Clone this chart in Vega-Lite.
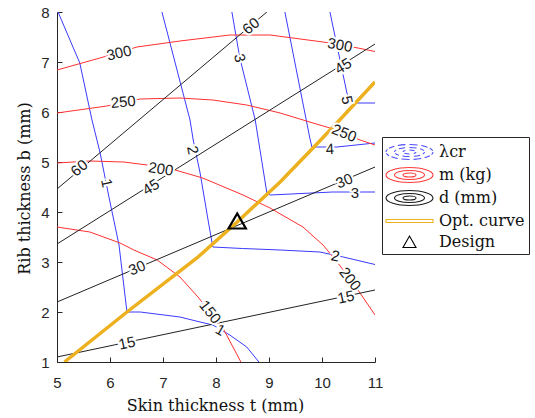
{
  "$schema": "https://vega.github.io/schema/vega-lite/v6.json",
  "width": 318,
  "height": 350,
  "autosize": {"type": "none"},
  "padding": {"left": 57, "top": 12, "right": 160, "bottom": 56},
  "background": "white",
  "config": {
    "view": {"stroke": null},
    "axis": {
      "grid": false,
      "domainColor": "#262626",
      "tickColor": "#262626",
      "labelFont": "Liberation Sans",
      "labelFontSize": 15,
      "labelColor": "#262626",
      "titleFont": "DejaVu Serif",
      "titleFontSize": 16,
      "titleFontWeight": "normal",
      "titleColor": "#111111",
      "labelFlush": false,
      "labelOverlap": false
    },
    "legend": {
      "strokeColor": "#262626",
      "fillColor": "white",
      "padding": 4,
      "symbolSize": 400,
      "symbolStrokeWidth": 1.1,
      "labelFont": "DejaVu Serif",
      "labelFontSize": 16,
      "labelColor": "#111111",
      "labelOffset": 31,
      "labelLimit": 300,
      "rowPadding": 2
    }
  },
  "datasets": {
    "contours": [
      {"kind": "lam", "line": "l1", "x": 5.02, "y": 8},
      {"kind": "lam", "line": "l1", "x": 5.43, "y": 6.98},
      {"kind": "lam", "line": "l1", "x": 5.66, "y": 5.84},
      {"kind": "lam", "line": "l1", "x": 5.81, "y": 5.2},
      {"kind": "lam", "line": "l1", "x": 5.98, "y": 4.3},
      {"kind": "lam", "line": "l1", "x": 6.17, "y": 3.34},
      {"kind": "lam", "line": "l1", "x": 6.32, "y": 2.0},
      {"kind": "lam", "line": "l1", "x": 6.57, "y": 2.0},
      {"kind": "lam", "line": "l1", "x": 7.32, "y": 1.9},
      {"kind": "lam", "line": "l1", "x": 7.7, "y": 1.8},
      {"kind": "lam", "line": "l1", "x": 7.94, "y": 1.74},
      {"kind": "lam", "line": "l1", "x": 8.26, "y": 1.54},
      {"kind": "lam", "line": "l1", "x": 8.58, "y": 1.3},
      {"kind": "lam", "line": "l1", "x": 8.81, "y": 1.0},
      {"kind": "lam", "line": "l2", "x": 6.98, "y": 8},
      {"kind": "lam", "line": "l2", "x": 7.51, "y": 5.84},
      {"kind": "lam", "line": "l2", "x": 7.57, "y": 5.44},
      {"kind": "lam", "line": "l2", "x": 7.7, "y": 4.78},
      {"kind": "lam", "line": "l2", "x": 7.85, "y": 3.84},
      {"kind": "lam", "line": "l2", "x": 7.94, "y": 3.3},
      {"kind": "lam", "line": "l2", "x": 8.5, "y": 3.27},
      {"kind": "lam", "line": "l2", "x": 9.21, "y": 3.24},
      {"kind": "lam", "line": "l2", "x": 9.96, "y": 3.2},
      {"kind": "lam", "line": "l2", "x": 10.4, "y": 3.1},
      {"kind": "lam", "line": "l2", "x": 11, "y": 2.95},
      {"kind": "lam", "line": "l3", "x": 8.3, "y": 8},
      {"kind": "lam", "line": "l3", "x": 8.45, "y": 7.08},
      {"kind": "lam", "line": "l3", "x": 8.74, "y": 5.84},
      {"kind": "lam", "line": "l3", "x": 8.96, "y": 4.38},
      {"kind": "lam", "line": "l3", "x": 9.02, "y": 4.34},
      {"kind": "lam", "line": "l3", "x": 10.2, "y": 4.4},
      {"kind": "lam", "line": "l3", "x": 11, "y": 4.4},
      {"kind": "lam", "line": "l4", "x": 9.3, "y": 8},
      {"kind": "lam", "line": "l4", "x": 9.77, "y": 5.48},
      {"kind": "lam", "line": "l4", "x": 9.81, "y": 5.3},
      {"kind": "lam", "line": "l4", "x": 9.91, "y": 5.3},
      {"kind": "lam", "line": "l4", "x": 10.28, "y": 5.3},
      {"kind": "lam", "line": "l4", "x": 11, "y": 5.38},
      {"kind": "lam", "line": "l5", "x": 10.15, "y": 8},
      {"kind": "lam", "line": "l5", "x": 10.47, "y": 6.38},
      {"kind": "lam", "line": "l5", "x": 10.55, "y": 6.18},
      {"kind": "lam", "line": "l5", "x": 10.68, "y": 6.18},
      {"kind": "lam", "line": "l5", "x": 11, "y": 6.18},
      {"kind": "m", "line": "m300", "x": 5, "y": 6.84},
      {"kind": "m", "line": "m300", "x": 5.81, "y": 7.08},
      {"kind": "m", "line": "m300", "x": 6.51, "y": 7.3},
      {"kind": "m", "line": "m300", "x": 7.32, "y": 7.42},
      {"kind": "m", "line": "m300", "x": 8.26, "y": 7.54},
      {"kind": "m", "line": "m300", "x": 9.02, "y": 7.54},
      {"kind": "m", "line": "m300", "x": 10.02, "y": 7.4},
      {"kind": "m", "line": "m300", "x": 10.68, "y": 7.28},
      {"kind": "m", "line": "m300", "x": 11, "y": 7.21},
      {"kind": "m", "line": "m250", "x": 5, "y": 5.98},
      {"kind": "m", "line": "m250", "x": 5.94, "y": 6.12},
      {"kind": "m", "line": "m250", "x": 6.57, "y": 6.26},
      {"kind": "m", "line": "m250", "x": 7.32, "y": 6.28},
      {"kind": "m", "line": "m250", "x": 7.94, "y": 6.24},
      {"kind": "m", "line": "m250", "x": 8.58, "y": 6.14},
      {"kind": "m", "line": "m250", "x": 9.21, "y": 5.98},
      {"kind": "m", "line": "m250", "x": 9.83, "y": 5.78},
      {"kind": "m", "line": "m250", "x": 10.15, "y": 5.68},
      {"kind": "m", "line": "m250", "x": 10.72, "y": 5.44},
      {"kind": "m", "line": "m250", "x": 11, "y": 5.34},
      {"kind": "m", "line": "m200", "x": 5, "y": 4.98},
      {"kind": "m", "line": "m200", "x": 5.62, "y": 5.02},
      {"kind": "m", "line": "m200", "x": 6.26, "y": 5.0},
      {"kind": "m", "line": "m200", "x": 6.7, "y": 4.94},
      {"kind": "m", "line": "m200", "x": 7.23, "y": 4.84},
      {"kind": "m", "line": "m200", "x": 7.75, "y": 4.68},
      {"kind": "m", "line": "m200", "x": 8.51, "y": 4.34},
      {"kind": "m", "line": "m200", "x": 9.02, "y": 4.08},
      {"kind": "m", "line": "m200", "x": 9.64, "y": 3.7},
      {"kind": "m", "line": "m200", "x": 10.02, "y": 3.34},
      {"kind": "m", "line": "m200", "x": 10.3, "y": 2.98},
      {"kind": "m", "line": "m200", "x": 10.53, "y": 2.66},
      {"kind": "m", "line": "m200", "x": 10.77, "y": 2.3},
      {"kind": "m", "line": "m200", "x": 11, "y": 1.94},
      {"kind": "m", "line": "m150", "x": 5, "y": 3.7},
      {"kind": "m", "line": "m150", "x": 5.62, "y": 3.6},
      {"kind": "m", "line": "m150", "x": 6.19, "y": 3.38},
      {"kind": "m", "line": "m150", "x": 6.45, "y": 3.24},
      {"kind": "m", "line": "m150", "x": 6.89, "y": 3.04},
      {"kind": "m", "line": "m150", "x": 7.32, "y": 2.7},
      {"kind": "m", "line": "m150", "x": 7.66, "y": 2.3},
      {"kind": "m", "line": "m150", "x": 7.89, "y": 2.0},
      {"kind": "m", "line": "m150", "x": 8.13, "y": 1.68},
      {"kind": "m", "line": "m150", "x": 8.28, "y": 1.38},
      {"kind": "m", "line": "m150", "x": 8.47, "y": 1.0},
      {"kind": "d", "line": "d60", "x": 5, "y": 4.46},
      {"kind": "d", "line": "d60", "x": 8.96, "y": 8},
      {"kind": "d", "line": "d45", "x": 5, "y": 3.36},
      {"kind": "d", "line": "d45", "x": 11, "y": 7.36},
      {"kind": "d", "line": "d30", "x": 5, "y": 2.2},
      {"kind": "d", "line": "d30", "x": 11, "y": 4.9},
      {"kind": "d", "line": "d15", "x": 5, "y": 1.1},
      {"kind": "d", "line": "d15", "x": 11, "y": 2.44},
      {"kind": "opt", "line": "opt", "x": 5.14, "y": 1.0},
      {"kind": "opt", "line": "opt", "x": 6.32, "y": 2.0},
      {"kind": "opt", "line": "opt", "x": 7.64, "y": 3.08},
      {"kind": "opt", "line": "opt", "x": 8.4, "y": 3.8},
      {"kind": "opt", "line": "opt", "x": 9.21, "y": 4.6},
      {"kind": "opt", "line": "opt", "x": 9.83, "y": 5.28},
      {"kind": "opt", "line": "opt", "x": 10.28, "y": 5.78},
      {"kind": "opt", "line": "opt", "x": 11, "y": 6.6}
    ],
    "labels": [
      {"line": "d60", "x": 5.42, "y": 4.88, "t": "60"},
      {"line": "d60", "x": 8.66, "y": 7.72, "t": "60"},
      {"line": "d45", "x": 6.77, "y": 4.5, "t": "45"},
      {"line": "d45", "x": 10.4, "y": 6.92, "t": "45"},
      {"line": "d30", "x": 6.51, "y": 2.88, "t": "30"},
      {"line": "d30", "x": 10.42, "y": 4.62, "t": "30"},
      {"line": "d15", "x": 6.32, "y": 1.38, "t": "15"},
      {"line": "d15", "x": 10.45, "y": 2.3, "t": "15"},
      {"line": "m300", "x": 6.17, "y": 7.18, "t": "300"},
      {"line": "m300", "x": 10.34, "y": 7.34, "t": "300"},
      {"line": "m250", "x": 6.25, "y": 6.2, "t": "250"},
      {"line": "m250", "x": 10.42, "y": 5.58, "t": "250"},
      {"line": "m200", "x": 6.96, "y": 4.86, "t": "200"},
      {"line": "m200", "x": 10.53, "y": 2.66, "t": "200"},
      {"line": "m150", "x": 7.89, "y": 2.0, "t": "150"},
      {"line": "l1", "x": 5.94, "y": 4.58, "t": "1"},
      {"line": "l1", "x": 8.08, "y": 1.64, "t": "1"},
      {"line": "l2", "x": 7.56, "y": 5.24, "t": "2"},
      {"line": "l2", "x": 10.25, "y": 3.12, "t": "2"},
      {"line": "l3", "x": 8.45, "y": 7.08, "t": "3"},
      {"line": "l3", "x": 10.62, "y": 4.38, "t": "3"},
      {"line": "l4", "x": 10.15, "y": 5.26, "t": "4"},
      {"line": "l5", "x": 10.47, "y": 6.24, "t": "5"}
    ],
    "legend": [
      {"entry": "λcr"},
      {"entry": "m (kg)"},
      {"entry": "d (mm)"},
      {"entry": "Opt. curve"},
      {"entry": "Design"}
    ],
    "design": [
      {"x": 8.4, "y": 3.82}
    ]
  },
  "encoding": {
    "x": {
      "field": "x",
      "type": "quantitative",
      "scale": {"domain": [5, 11], "nice": false, "zero": false},
      "axis": {
        "title": "Skin thickness t (mm)",
        "values": [5, 6, 7, 8, 9, 10, 11],
        "tickSize": -5,
        "labelPadding": 18,
        "titleX": 158,
        "titleY": 48,
        "titleBaseline": "alphabetic"
      }
    },
    "y": {
      "field": "y",
      "type": "quantitative",
      "scale": {"domain": [1, 8], "nice": false, "zero": false},
      "axis": {
        "title": "Rib thickness b (mm)",
        "values": [1, 2, 3, 4, 5, 6, 7, 8],
        "tickSize": -5,
        "labelPadding": 13,
        "titleX": -28,
        "titleY": 176,
        "titleBaseline": "alphabetic"
      }
    }
  },
  "layer": [
    {
      "data": {"name": "contours"},
      "transform": [{"filter": "datum.kind == 'lam'"}],
      "mark": {"type": "line", "color": "#3a3aff", "strokeWidth": 1, "clip": true},
      "encoding": {"detail": {"field": "line"}, "order": {"value": null}}
    },
    {
      "data": {"name": "contours"},
      "transform": [{"filter": "datum.kind == 'm'"}],
      "mark": {"type": "line", "color": "#ff3030", "strokeWidth": 1, "clip": true},
      "encoding": {"detail": {"field": "line"}, "order": {"value": null}}
    },
    {
      "data": {"name": "contours"},
      "transform": [{"filter": "datum.kind == 'd'"}],
      "mark": {"type": "line", "color": "#222222", "strokeWidth": 1, "clip": true},
      "encoding": {"detail": {"field": "line"}, "order": {"value": null}}
    },
    {
      "data": {"name": "contours"},
      "transform": [{"filter": "datum.kind == 'opt'"}],
      "mark": {"type": "line", "color": "#EDB120", "strokeWidth": 3.5, "clip": true},
      "encoding": {"detail": {"field": "line"}, "order": {"value": null}}
    },
    {
      "data": {"name": "labels"},
      "encoding": {
        "text": {"field": "t", "type": "nominal"},
        "angle": {
          "condition": [
            {"test": "datum.line == 'd60'", "value": -40},
            {"test": "datum.line == 'd45'", "value": -32},
            {"test": "datum.line == 'd30'", "value": -23},
            {"test": "datum.line == 'd15'", "value": -12},
            {"test": "datum.line == 'm300' && datum.x < 8", "value": -13},
            {"test": "datum.line == 'm300'", "value": 10},
            {"test": "datum.line == 'm250' && datum.x < 8", "value": -5},
            {"test": "datum.line == 'm250'", "value": 22},
            {"test": "datum.line == 'm200' && datum.x < 8", "value": 9},
            {"test": "datum.line == 'm200' || datum.line == 'm150'", "value": 52},
            {"test": "datum.line == 'l1' && datum.y < 3", "value": 30},
            {"test": "datum.line == 'l2' && datum.x > 9", "value": 12},
            {"test": "datum.line == 'l3' && datum.x > 9", "value": 0},
            {"test": "datum.line == 'l4'", "value": -3}
          ],
          "value": 78
        }
      },
      "layer": [
        {"mark": {"type": "text", "font": "Liberation Sans", "fontSize": 15, "fill": "white", "stroke": "white", "strokeWidth": 4, "align": "center", "baseline": "middle"}},
        {"mark": {"type": "text", "font": "Liberation Sans", "fontSize": 15, "color": "#1a1a1a", "align": "center", "baseline": "middle"}}
      ]
    },
    {
      "data": {"name": "design"},
      "mark": {"type": "point", "shape": "triangle-up", "size": 300, "filled": false, "color": "#000000", "strokeWidth": 2.2, "opacity": 1}
    },
    {
      "data": {"name": "legend"},
      "mark": {"type": "point", "filled": false, "opacity": 1},
      "encoding": {
        "color": {
          "field": "entry",
          "type": "nominal",
          "scale": {
            "domain": ["λcr", "m (kg)", "d (mm)", "Opt. curve", "Design"],
            "range": ["#4a4aff", "#ff3a3a", "#1a1a1a", "#EDB120", "#000000"]
          },
          "legend": {"title": null, "orient": "none", "legendX": 325, "legendY": 125}
        },
        "shape": {
          "field": "entry",
          "type": "nominal",
          "scale": {
            "domain": ["λcr", "m (kg)", "d (mm)", "Opt. curve", "Design"],
            "range": [
              "M3.6,0A2.35,0.75 0 0,1 3.458,0.257M3.285,0.375A2.35,0.75 0 0,1 2.761,0.575M2.425,0.65A2.35,0.75 0 0,1 1.658,0.739M1.25,0.75A2.35,0.75 0 0,1 0.446,0.705M0.075,0.65A2.35,0.75 0 0,1 -0.55,0.482M-0.785,0.375A2.35,0.75 0 0,1 -1.064,0.13M-1.1,0A2.35,0.75 0 0,1 -0.958,-0.257M-0.785,-0.375A2.35,0.75 0 0,1 -0.261,-0.575M0.075,-0.65A2.35,0.75 0 0,1 0.842,-0.739M1.25,-0.75A2.35,0.75 0 0,1 2.054,-0.705M2.425,-0.65A2.35,0.75 0 0,1 3.05,-0.482M3.285,-0.375A2.35,0.75 0 0,1 3.564,-0.13M2.75,0A1.5,0.45 0 0,1 2.574,0.211M2.311,0.318A1.5,0.45 0 0,1 1.689,0.43M1.25,0.45A1.5,0.45 0 0,1 0.546,0.397M0.189,0.318A1.5,0.45 0 0,1 -0.184,0.132M-0.25,0A1.5,0.45 0 0,1 -0.074,-0.211M0.189,-0.318A1.5,0.45 0 0,1 0.811,-0.43M1.25,-0.45A1.5,0.45 0 0,1 1.954,-0.397M2.311,-0.318A1.5,0.45 0 0,1 2.684,-0.132M1.9,0A0.65,0.2 0 0,1 1.668,0.153M1.25,0.2A0.65,0.2 0 0,1 0.752,0.129M0.6,0A0.65,0.2 0 0,1 0.832,-0.153M1.25,-0.2A0.65,0.2 0 0,1 1.748,-0.129",
              "M-1.1,0A2.35,0.75 0 1,0 3.6,0A2.35,0.75 0 1,0 -1.1,0ZM-0.25,0A1.5,0.45 0 1,0 2.75,0A1.5,0.45 0 1,0 -0.25,0ZM0.6,0A0.65,0.2 0 1,0 1.9,0A0.65,0.2 0 1,0 0.6,0Z",
              "M-1.1,0A2.35,0.75 0 1,0 3.6,0A2.35,0.75 0 1,0 -1.1,0ZM-0.25,0A1.5,0.45 0 1,0 2.75,0A1.5,0.45 0 1,0 -0.25,0ZM0.6,0A0.65,0.2 0 1,0 1.9,0A0.65,0.2 0 1,0 0.6,0Z",
              "M-1.1,-0.15H3.6V0.15H-1.1Z",
              "M0.6,0.55L1.9,0.55L1.25,-0.6Z"
            ]
          },
          "legend": {"title": null, "orient": "none", "legendX": 325, "legendY": 125}
        }
      }
    }
  ]
}
